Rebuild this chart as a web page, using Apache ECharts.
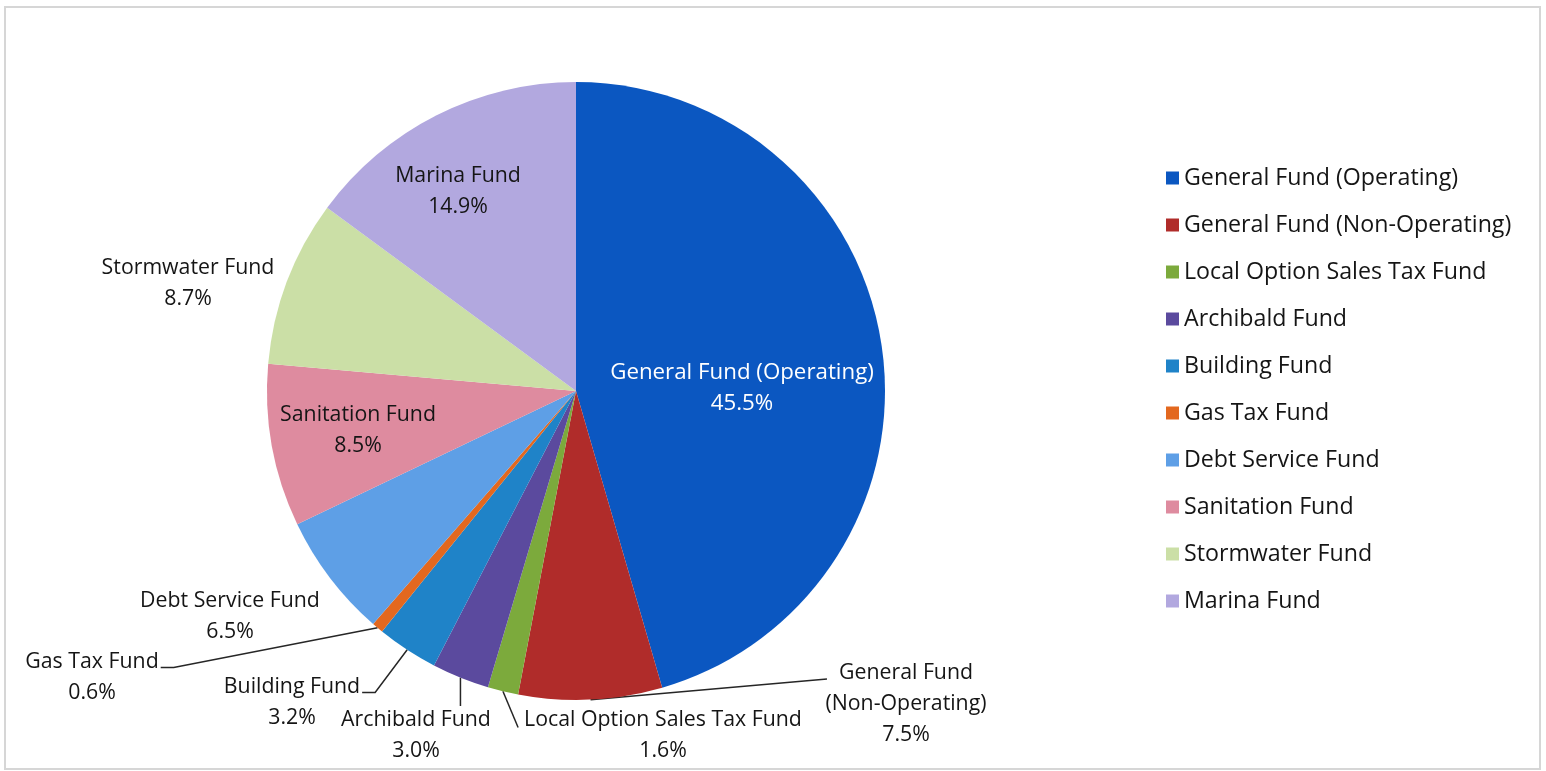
<!DOCTYPE html>
<html>
<head>
<meta charset="utf-8">
<script src="https://cdn.jsdelivr.net/npm/echarts@6/dist/echarts.min.js"></script>
<style>
  html, body { margin: 0; padding: 0; background: #fff; }
  #chart { width: 1546px; height: 771px; }
</style>
</head>
<body>
<div id="chart"></div>
<script>
// Fund shares of the budget (percent)
const funds = [
  'General Fund (Operating)',
  'General Fund (Non-Operating)',
  'Local Option Sales Tax Fund',
  'Archibald Fund',
  'Building Fund',
  'Gas Tax Fund',
  'Debt Service Fund',
  'Sanitation Fund',
  'Stormwater Fund',
  'Marina Fund'
];
const shares = [45.5, 7.5, 1.6, 3.0, 3.2, 0.6, 6.5, 8.5, 8.7, 14.9];
const labelNames = [
  'General Fund (Operating)',
  'General Fund\n(Non-Operating)',
  'Local Option Sales Tax Fund',
  'Archibald Fund',
  'Building Fund',
  'Gas Tax Fund',
  'Debt Service Fund',
  'Sanitation Fund',
  'Stormwater Fund',
  'Marina Fund'
];
const colors = [
  '#0b57c1', '#b02c2a', '#7caa3c', '#5b4a9e', '#1f83c8',
  '#e3681f', '#5e9fe6', '#de8b9f', '#cbdfa6', '#b2a8df'
];

// Where each slice label sits and how its leader line is drawn
const FONT = '"Open Sans", Lato, sans-serif';
const LABEL_SIZE = 21.3;
const LINE_H = 31;
const PIE_CENTER = [576, 391];
const PIE_RADIUS = 309;
const labelSpots = [
  { x: 742, y: 388, inside: true, color: '#ffffff', size: 22.3, guide: null },
  { x: 906, y: 704, guide: 'flatLeft' },
  { x: 663, y: 735, guide: 'slashLeft' },
  { x: 416, y: 735, guide: 'down' },
  { x: 292, y: 702, guide: 'hookRight' },
  { x: 92,  y: 677, guide: 'hookRight' },
  { x: 230, y: 616, guide: null },
  { x: 358, y: 430, inside: true, guide: null },
  { x: 188, y: 283, guide: null },
  { x: 458, y: 191, inside: true, guide: null }
];

const measureCtx = document.createElement('canvas').getContext('2d');
function textWidth(str, size) {
  measureCtx.font = size + 'px ' + FONT;
  return measureCtx.measureText(str).width;
}

// Point on the rim at the middle of slice i (fallback when no guide points are given)
function rimPoint(i) {
  const total = shares.reduce((a, b) => a + b, 0);
  let before = 0;
  for (let k = 0; k < i; k++) before += shares[k];
  const ang = (before + shares[i] / 2) / total * Math.PI * 2;
  return [PIE_CENTER[0] + PIE_RADIUS * Math.sin(ang), PIE_CENTER[1] - PIE_RADIUS * Math.cos(ang)];
}

const data = funds.map((name, i) => {
  const spot = labelSpots[i];
  return {
    name: name,
    value: shares[i],
    itemStyle: { color: colors[i] },
    label: {
      position: spot.inside ? 'inside' : 'outside',
      color: spot.color || '#151515',
      fontSize: spot.size || LABEL_SIZE
    },
    labelLine: { show: !!spot.guide }
  };
});

const chart = echarts.init(document.getElementById('chart'), null, { renderer: 'canvas' });
chart.setOption({
  animation: false,
  backgroundColor: '#ffffff',
  graphic: [{
    type: 'rect',
    shape: { x: 5, y: 7, width: 1535, height: 762 },
    style: { fill: 'none', stroke: '#d6d6d6', lineWidth: 2 },
    silent: true,
    z: -1
  }],
  legend: {
    orient: 'vertical',
    left: 1161,
    top: 161,
    icon: 'rect',
    itemWidth: 13,
    itemHeight: 13,
    itemGap: 23,
    selectedMode: false,
    data: funds,
    textStyle: {
      fontFamily: FONT,
      fontSize: 23.2,
      lineHeight: 24,
      color: '#151515'
    }
  },
  series: [{
    type: 'pie',
    center: PIE_CENTER,
    radius: [0, PIE_RADIUS],
    startAngle: 90,
    clockwise: true,
    avoidLabelOverlap: false,
    itemStyle: { borderWidth: 0 },
    emphasis: { disabled: true },
    label: {
      show: true,
      fontFamily: FONT,
      fontSize: LABEL_SIZE,
      lineHeight: LINE_H,
      align: 'center',
      formatter: p => labelNames[p.dataIndex] + '\n' + p.value.toFixed(1) + '%'
    },
    labelLine: {
      length: 10,
      length2: 10,
      lineStyle: { color: '#262626', width: 1.5 }
    },
    labelLayout: function (p) {
      const i = p.dataIndex;
      const s = labelSpots[i];
      const out = { x: s.x, y: s.y, align: 'center', verticalAlign: 'middle' };
      if (s.guide) {
        const start = (p.labelLinePoints && p.labelLinePoints[0]) ? p.labelLinePoints[0].slice() : rimPoint(i);
        const lines = labelNames[i].split('\n');
        const nLines = lines.length + 1;
        const w1 = textWidth(lines[0], s.size || LABEL_SIZE);
        const top = s.y - nLines * LINE_H / 2;
        const mid1 = top + LINE_H / 2;
        let pts;
        if (s.guide === 'hookRight') {
          const right = s.x + w1 / 2;
          pts = [start, [right + 15, mid1 + 6], [right + 2, mid1 + 6]];
        } else if (s.guide === 'down') {
          pts = [start, [start[0], top + 2], [start[0], top + 2]];
        } else if (s.guide === 'slashLeft') {
          const left = s.x - w1 / 2;
          pts = [start, [left - 6, mid1 + 8], [left - 6, mid1 + 8]];
        } else {
          const left = s.x - w1 / 2;
          pts = [start, [left - 12, mid1 + 6], [left - 12, mid1 + 6]];
        }
        out.labelLinePoints = pts;
      }
      return out;
    },
    data: data
  }]
});
</script>
</body>
</html>
